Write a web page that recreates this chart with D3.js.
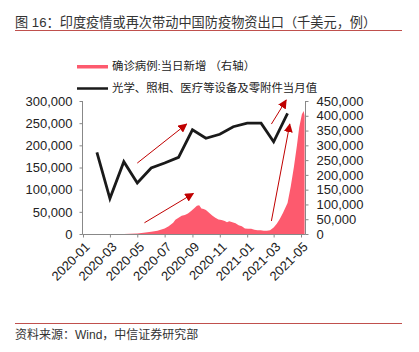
<!DOCTYPE html>
<html>
<head>
<meta charset="utf-8">
<script src="https://cdn.jsdelivr.net/npm/d3@7"></script>
<style>
  body { margin: 0; background: #fff; }
  svg text { font-family: "Liberation Sans", Arial, "Noto Sans CJK SC", sans-serif; }
</style>
</head>
<body>
<div id="chart"></div>
<script>
// monthly export value (thousand USD), left axis
const exportMonths = ["2020-02", "2020-03", "2020-04", "2020-05", "2020-06", "2020-07", "2020-08",
    "2020-09", "2020-10", "2020-11", "2020-12", "2021-01", "2021-02", "2021-03", "2021-04"];
const exportValues = [184000, 80000, 163000, 115000, 149000, 160000, 173000,
    235000, 216000, 225000, 242000, 250000, 250000, 208000, 272000];

// India daily new confirmed cases, right axis
const caseDates = ["2020-01-01", "2020-03-01", "2020-03-20", "2020-04-01", "2020-04-15", "2020-05-01",
    "2020-05-15", "2020-06-01", "2020-06-15", "2020-07-01", "2020-07-10", "2020-07-20", "2020-07-25",
    "2020-08-01", "2020-08-08", "2020-08-15", "2020-08-22", "2020-08-29", "2020-09-05", "2020-09-11",
    "2020-09-16", "2020-09-21", "2020-09-26", "2020-10-01", "2020-10-08", "2020-10-15", "2020-10-22",
    "2020-10-29", "2020-11-05", "2020-11-12", "2020-11-17", "2020-11-22", "2020-11-29", "2020-12-06",
    "2020-12-13", "2020-12-20", "2020-12-27", "2021-01-03", "2021-01-10", "2021-01-17", "2021-01-24",
    "2021-01-31", "2021-02-07", "2021-02-14", "2021-02-21", "2021-03-01", "2021-03-08", "2021-03-15",
    "2021-03-22", "2021-04-01", "2021-04-08", "2021-04-15", "2021-04-22", "2021-04-27", "2021-05-03",
    "2021-05-07", "2021-05-09"];
const caseValues = [0, 0, 50, 400, 1000, 2000,
    3900, 8000, 11000, 18500, 26000, 38000, 48000,
    55000, 62000, 64000, 69000, 78000, 87000, 96000,
    97000, 86000, 85000, 81000, 72000, 63000, 55000,
    49000, 47000, 44000, 40000, 43000, 40000, 36000,
    30000, 26000, 19000, 18000, 18000, 14000, 13000,
    13000, 11000, 11000, 13000, 22000, 35000, 52000,
    72000, 105000, 160000, 225000, 300000, 360000, 405000,
    416000, 400000];

// axis ticks
const xTickLabels = ["2020-01", "2020-03", "2020-05", "2020-07", "2020-09", "2020-11", "2021-01", "2021-03", "2021-05"];
const leftTicks = [0, 50000, 100000, 150000, 200000, 250000, 300000];
const rightTicks = [0, 50000, 100000, 150000, 200000, 250000, 300000, 350000, 400000, 450000];

// red annotation arrows: [startDate, startValue, axis] -> [endDate, endValue]
const arrowStarts = [["2020-05-01", 160000, "left"], ["2020-05-17", 38000, "right"], ["2021-02-24", 248000, "left"], ["2021-02-24", 44000, "right"]];
const arrowEnds = [["2020-08-19", 248000], ["2020-09-03", 137000], ["2021-03-29", 302000], ["2021-04-06", 372000]];

function comboChart() {
    const W = 419, H = 352;
    const plot = { left: 83, right: 305, top: 101, bottom: 234 };
    const parse = d3.timeParse("%Y-%m-%d");
    const parseMonth = d3.timeParse("%Y-%m");

    const svg = d3.select("#chart")
        .append("svg")
        .attr("width", W)
        .attr("height", H);

    // title + rules
    svg.append("text")
        .attr("x", 15).attr("y", 27)
        .style("font-size", "13.2px").style("fill", "#333")
        .text("图 16：印度疫情或再次带动中国防疫物资出口（千美元，例）");
    svg.append("line")
        .attr("x1", 15).attr("x2", 402).attr("y1", 30.5).attr("y2", 30.5)
        .style("stroke", "#c0504d").style("stroke-width", 1);
    svg.append("line")
        .attr("x1", 15).attr("x2", 402).attr("y1", 323.5).attr("y2", 323.5)
        .style("stroke", "#c0504d").style("stroke-width", 1);
    svg.append("text")
        .attr("x", 15).attr("y", 339)
        .style("font-size", "12px").style("fill", "#333")
        .text("资料来源：Wind，中信证券研究部");

    // scales
    const xScale = d3.scaleTime()
        .domain([parseMonth("2020-01"), parseMonth("2021-05")])
        .range([plot.left, 301]);
    const yLeft = d3.scaleLinear().domain([0, 300000]).range([plot.bottom, plot.top]);
    const yRight = d3.scaleLinear().domain([0, 450000]).range([plot.bottom, plot.top]);
    const fmt = d3.format(",");

    const cases = caseDates.map((d, i) => ({ date: parse(d), v: caseValues[i] }));
    const exports = exportMonths.map((m, i) => ({ date: parseMonth(m), v: exportValues[i] }));

    // cases area
    svg.append("path")
        .datum(cases)
        .attr("d", d3.area()
            .x(d => xScale(d.date))
            .y0(yRight(0))
            .y1(d => yRight(d.v)))
        .style("fill", "#fd5a6e");

    // export line
    svg.append("path")
        .datum(exports)
        .attr("d", d3.line()
            .x(d => xScale(d.date))
            .y(d => yLeft(d.v)))
        .style("fill", "none")
        .style("stroke", "#1a1a1a")
        .style("stroke-width", 2.8)
        .style("stroke-linejoin", "miter");

    // arrows
    svg.append("defs").append("marker")
        .attr("id", "arrowHead")
        .attr("viewBox", "0 0 10 10")
        .attr("refX", 9).attr("refY", 5)
        .attr("markerWidth", 9).attr("markerHeight", 9)
        .attr("markerUnits", "userSpaceOnUse")
        .attr("orient", "auto")
        .append("path")
        .attr("d", "M0,0 L10,5 L0,10 Z")
        .style("fill", "#c00000");

    svg.append("g")
        .selectAll("line")
        .data(arrowStarts.map((s, i) => ({ s, e: arrowEnds[i] })))
        .join("line")
        .attr("x1", d => xScale(parse(d.s[0])))
        .attr("y1", d => (d.s[2] === "left" ? yLeft : yRight)(d.s[1]))
        .attr("x2", d => xScale(parse(d.e[0])))
        .attr("y2", d => (d.s[2] === "left" ? yLeft : yRight)(d.e[1]))
        .style("stroke", "#c00000")
        .style("stroke-width", 1)
        .attr("marker-end", "url(#arrowHead)");

    // axes
    const axisColor = "#888";
    const styleAxis = g => {
        g.selectAll(".domain").remove();
        g.selectAll("line").style("stroke", axisColor);
        g.selectAll("text").style("font-size", "13px").style("fill", "#222");
    };

    svg.append("g")
        .attr("transform", `translate(${plot.left - 0.5},0)`)
        .call(d3.axisLeft(yLeft).tickValues(leftTicks).tickSize(3).tickPadding(7).tickFormat(fmt))
        .call(styleAxis);

    svg.append("g")
        .attr("transform", `translate(${plot.right + 0.5},0)`)
        .call(d3.axisRight(yRight).tickValues(rightTicks).tickSize(3).tickPadding(8).tickFormat(fmt))
        .call(styleAxis);

    const xAxis = svg.append("g")
        .attr("transform", `translate(0,${plot.bottom + 0.5})`)
        .call(d3.axisBottom(xScale)
            .tickValues(xTickLabels.map(parseMonth))
            .tickSize(3)
            .tickFormat(d3.timeFormat("%Y-%m")))
        .call(styleAxis);
    xAxis.selectAll("text")
        .attr("x", 0).attr("y", 0).attr("dy", "0.35em")
        .attr("text-anchor", "end")
        .attr("transform", "translate(4,10) rotate(-45)");

    // axis lines
    svg.append("line")
        .attr("x1", plot.left - 0.5).attr("x2", plot.left - 0.5)
        .attr("y1", plot.top).attr("y2", plot.bottom + 0.5)
        .style("stroke", axisColor);
    svg.append("line")
        .attr("x1", plot.right + 0.5).attr("x2", plot.right + 0.5)
        .attr("y1", plot.top).attr("y2", plot.bottom + 0.5)
        .style("stroke", axisColor);
    svg.append("line")
        .attr("x1", plot.left - 0.5).attr("x2", plot.right + 0.5)
        .attr("y1", plot.bottom + 0.5).attr("y2", plot.bottom + 0.5)
        .style("stroke", axisColor);

    // legend
    const legend = svg.append("g");
    legend.append("rect")
        .attr("x", 77).attr("y", 65).attr("width", 31).attr("height", 3.5)
        .style("fill", "#fd5a6e");
    legend.append("text")
        .attr("x", 112).attr("y", 66.5).attr("dy", "0.35em")
        .style("font-size", "11.4px").style("fill", "#222")
        .text("确诊病例:当日新增 （右轴）");
    legend.append("line")
        .attr("x1", 77).attr("x2", 108).attr("y1", 88.5).attr("y2", 88.5)
        .style("stroke", "#1a1a1a").style("stroke-width", 2.5);
    legend.append("text")
        .attr("x", 112).attr("y", 88.5).attr("dy", "0.35em")
        .style("font-size", "11.4px").style("fill", "#222")
        .text("光学、照相、医疗等设备及零附件当月值");
}

comboChart();
</script>
</body>
</html>
